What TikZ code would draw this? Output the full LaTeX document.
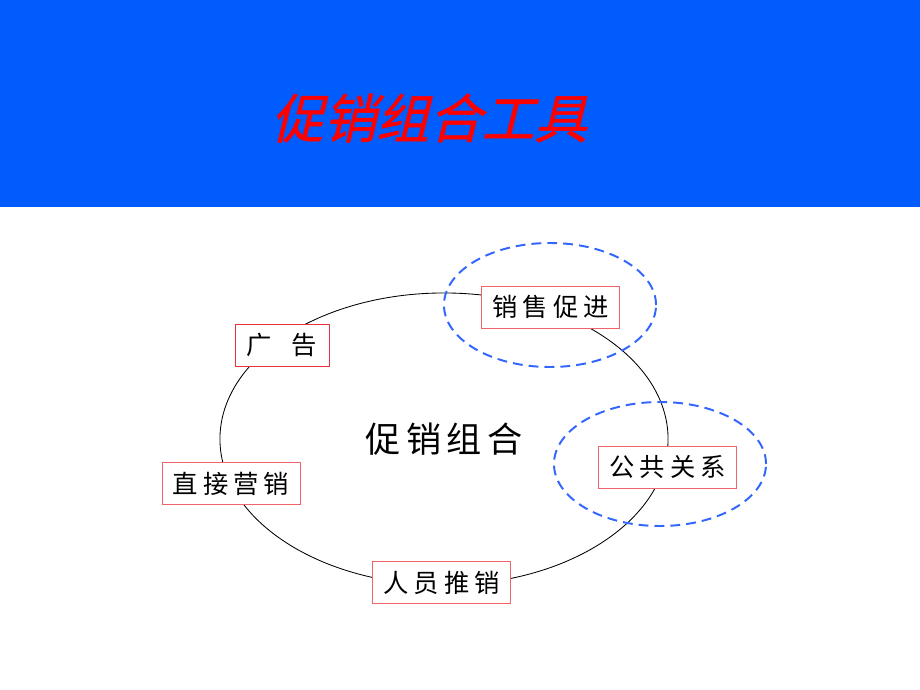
\documentclass[tikz,border=0pt]{standalone}
\usepackage{fontspec}
\usepackage{tikz}
\newfontfamily\boxfont[LetterSpace=20]{Noto Sans CJK SC}
\newfontfamily\mixfont[LetterSpace=16]{Noto Sans CJK SC}
\newfontfamily\titlefont[FakeSlant=0.25,FakeBold=1]{Noto Sans CJK SC}
\definecolor{banner}{RGB}{0,92,252}
\definecolor{toolpink}{RGB}{240,100,105}
\definecolor{toolred}{RGB}{235,50,60}
\definecolor{rangeblue}{RGB}{51,102,255}
\usetikzlibrary{shapes.geometric}

\begin{document}
\begin{tikzpicture}[x=0.025cm,y=-0.025cm,
	tool/.style={draw=toolpink,fill=white,line width=0.6pt,inner sep=0pt,
		minimum width=3.45cm,minimum height=1.05cm,
		font=\boxfont\fontsize{18pt}{20pt}\selectfont},
	reach/.style={ellipse,draw=rangeblue,line width=1.4pt,inner sep=0pt,
		dash pattern=on 7pt off 4.3pt,minimum width=5.3cm,minimum height=3.1cm}]

				\fill[white] (0,0) rectangle (920,690);
				\useasboundingbox (0,0) rectangle (920,690);
				\fill[banner] (0,0) rectangle (920,207);

				\node[text=red,font=\titlefont\fontsize{37.5pt}{40pt}\selectfont]
					(title) at (429,118) {促销组合工具};

				% the mix itself
				\node[ellipse,draw=black,line width=0.6pt,inner sep=0pt,
					minimum width=11.2cm,minimum height=7.3cm,
					font=\mixfont\fontsize{25pt}{28pt}\selectfont]
					(mix) at (444,439) {促销组合};

				\node[tool,draw=toolred,minimum width=2.35cm] (ad)   at (282,345)   {广\hspace{0.5cm}告};
				\node[tool] (promo)  at (550.5,307) {销售促进};
				\node[tool] (pr)     at (667.5,467) {公共关系};
				\node[tool] (direct) at (231,483.5) {直接营销};
				\node[tool] (sales)  at (441.5,582.5) {人员推销};

				% dashed reaches
				\node[reach] (promoreach) at (550,305) {};
				\node[reach] (prreach)    at (660,464) {};

\end{tikzpicture}
\end{document}
